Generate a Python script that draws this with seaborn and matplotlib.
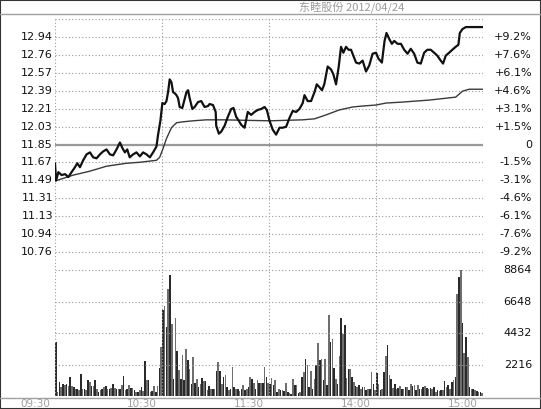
import numpy as np
import pandas as pd
import matplotlib
matplotlib.use('Agg')
import matplotlib.pyplot as plt
import seaborn as sns
from matplotlib.lines import Line2D
from matplotlib.patches import Rectangle

# title / axis texts
title = '东睦股份 2012/04/24'
time_labels = ['09:30', '10:30', '11:30', '14:00', '15:00']
time_ticks = [0, 60, 120, 180, 240]
price_labels = ['12.94', '12.76', '12.57', '12.39', '12.21', '12.03', '11.85',
                '11.67', '11.49', '11.31', '11.13', '10.94', '10.76']
pct_labels = ['+9.2%', '+7.6%', '+6.1%', '+4.6%', '+3.1%', '+1.5%', '0',
              '-1.5%', '-3.1%', '-4.6%', '-6.1%', '-7.6%', '-9.2%']
vol_ticks = [2216, 4432, 6648, 8864]
prev_close = 11.85

# price line (minutes after 09:30, price)
price_t = [0, 0.6, 1.9, 3.7, 5.6, 7.5, 9.3, 11.2, 12.5, 14, 15.8, 17.7, 19.6, 21.4, 23.3,
           25.2, 27, 28.9, 30.8, 32.6, 34.5, 36.4, 37.9, 39.2, 40.5, 41.9, 43.8, 45.7,
           47.6, 49.4, 51.3, 53.2, 55, 56.9, 57.8, 59.1, 60.2, 61.5, 62.5, 63.4, 64.3,
           65.3, 66.2, 67.1, 68.1, 69, 69.9, 71.4, 72.4, 73.7, 74.6, 75.5, 77, 78.3,
           80.2, 82, 83.9, 85.8, 86.7, 88.6, 90.1, 90.4, 91.9, 93.2, 95.1, 96.9, 98.8,
           100.1, 101.6, 103.1, 104.4, 106.3, 108.1, 110, 111.9, 113.7, 115.6, 117.5,
           118.8, 120.3, 122.1, 124, 125.9, 127.7, 129.6, 131.5, 133.3, 135.2, 137.1,
           138.9, 139.9, 141.7, 143.6, 145.5, 146.8, 148.3, 149.7, 151, 152.9, 154.8,
           156.1, 157.6, 159.1, 160.4, 161.7, 163.2, 164.6, 166, 167.3, 168.8, 170.6,
           172.5, 174.4, 176.2, 178.1, 180, 181.4, 183.3, 184.8, 185.9, 187.4, 188.9,
           190.2, 192.1, 194, 195.8, 197.7, 199.5, 201.4, 203.2, 205.1, 207, 208.8,
           210.7, 212.6, 214.4, 216.3, 217.6, 219.1, 221, 222.8, 224.7, 226.2, 227,
           228.5, 230.4, 240]
price_v = [11.66, 11.485, 11.57, 11.54, 11.55, 11.52, 11.57, 11.62, 11.66, 11.62, 11.69,
           11.75, 11.77, 11.72, 11.71, 11.75, 11.78, 11.80, 11.75, 11.74, 11.80, 11.87,
           11.81, 11.77, 11.80, 11.72, 11.75, 11.77, 11.73, 11.77, 11.75, 11.72, 11.77,
           11.83, 11.95, 12.09, 12.27, 12.26, 12.29, 12.38, 12.51, 12.48, 12.38, 12.37,
           12.35, 12.32, 12.23, 12.22, 12.29, 12.38, 12.40, 12.32, 12.21, 12.23, 12.28,
           12.29, 12.23, 12.24, 12.26, 12.25, 12.18, 12.04, 11.96, 11.98, 12.04, 12.13,
           12.21, 12.22, 12.13, 12.09, 12.05, 12.02, 12.18, 12.15, 12.18, 12.20, 12.21,
           12.23, 12.20, 12.09, 12.00, 11.95, 12.02, 12.02, 12.03, 12.12, 12.19, 12.18,
           12.21, 12.27, 12.35, 12.29, 12.29, 12.38, 12.46, 12.43, 12.40, 12.46, 12.64,
           12.61, 12.56, 12.46, 12.64, 12.84, 12.78, 12.84, 12.81, 12.81, 12.75, 12.68,
           12.67, 12.70, 12.59, 12.65, 12.77, 12.78, 12.72, 12.68, 12.90, 12.98, 12.92,
           12.87, 12.90, 12.87, 12.87, 12.81, 12.77, 12.82, 12.77, 12.68, 12.67, 12.78,
           12.81, 12.81, 12.78, 12.75, 12.70, 12.67, 12.75, 12.78, 12.81, 12.84, 12.86,
           12.98, 13.02, 13.04, 13.04]

# average price line
avg_t = [0, 10.3, 19.6, 28.9, 40.1, 47.6, 56.9, 58.7, 60.6, 62.5, 65.3, 68.1, 71.8,
         77.4, 84.9, 94.2, 120.3, 138.9, 145.5, 152, 159.4, 166.9, 172.5, 180, 185.6,
         194.9, 209.8, 224.7, 228.5, 232.2, 240]
avg_v = [11.48, 11.54, 11.58, 11.63, 11.66, 11.67, 11.69, 11.72, 11.81, 11.91, 12.02,
         12.07, 12.08, 12.09, 12.10, 12.10, 12.09, 12.10, 12.11, 12.15, 12.20, 12.23,
         12.24, 12.25, 12.27, 12.28, 12.30, 12.33, 12.39, 12.41, 12.41]

# volume per minute
volume = [3800, 300, 990, 640, 870, 750, 870, 700, 1340, 700,
          640, 520, 520, 400, 1570, 520, 520, 400, 1100, 990,
          700, 700, 1100, 520, 280, 400, 520, 640, 700, 520,
          520, 560, 870, 560, 520, 470, 520, 750, 1410, 400,
          520, 800, 560, 560, 400, 280, 250, 400, 640, 350,
          2450, 1100, 1105, 280, 330, 705, 280, 705, 1975, 3455,
          6040, 6345, 4865, 7520, 8550, 5100, 1175, 5500, 3150, 1810,
          1230, 2910, 1105, 3290, 2515, 1880, 870, 2750, 940, 1175,
          635, 870, 1270, 1080, 1030, 400, 705, 517, 470, 520,
          1740, 2400, 1740, 870, 1340, 1505, 635, 400, 520, 2045,
          635, 517, 517, 330, 517, 800, 400, 517, 600, 1340,
          1175, 940, 517, 1105, 940, 940, 940, 2045, 1340, 940,
          870, 1270, 750, 1105, 260, 517, 400, 400, 350, 940,
          280, 180, 120, 1175, 750, 800, 180, 300, 1340, 1690,
          2585, 2210, 635, 1740, 517, 1230, 2210, 3760, 2515, 2585,
          1105, 2585, 800, 5730, 3810, 4000, 1975, 1230, 870, 2820,
          5500, 4395, 4985, 1270, 1880, 1880, 1340, 987, 705, 600,
          750, 517, 635, 635, 400, 470, 517, 1690, 870, 400,
          1645, 870, 400, 470, 1690, 2820, 3620, 1505, 1230, 565,
          870, 517, 565, 705, 517, 470, 600, 635, 400, 870,
          705, 750, 400, 750, 517, 520, 635, 705, 565, 470,
          565, 517, 635, 260, 400, 350, 450, 400, 1030, 635,
          800, 470, 987, 1105, 1340, 7215, 8390, 8860, 5170, 3055,
          4160, 2750, 600, 520, 470, 400, 350, 300, 250, 200]

sns.set_theme(style='white')
plt.rcParams['font.family'] = ['DejaVu Sans']

W, H = 541, 409
fig = plt.figure(figsize=(W / 100, H / 100), dpi=100)
fig.patch.set_facecolor('white')

L, R = 55, 483
ax_p = fig.add_axes([L / W, 1 - 270 / H, (R - L) / W, 251 / H])
ax_v = fig.add_axes([L / W, 1 - 396 / H, (R - L) / W, 126 / H])

dot = dict(color='#9a9a9a', lw=0.8, linestyle=(0, (1, 2)))
step = 1.09 / 6

# price panel
ax_p.set_xlim(0, 240)
ax_p.set_ylim(prev_close - 7 * step, prev_close + 7 * step)
for k in range(-7, 8):
    if k != 0:
        ax_p.axhline(prev_close + k * step, **dot)
for t in [0, 60, 120, 180, 240]:
    ax_p.axvline(t, **dot)
ax_p.axhline(prev_close, color='#999999', lw=1.6)
sns.lineplot(x=avg_t, y=avg_v, ax=ax_p, color='#3a3a3a', linewidth=1.0, sort=False)
sns.lineplot(x=price_t, y=price_v, ax=ax_p, color='#111111', linewidth=1.6, sort=False)

ytr = ax_p.get_yaxis_transform()
for i, (a, b) in enumerate(zip(price_labels, pct_labels)):
    y = prev_close + (6 - i) * step
    ax_p.text(-2 / (R - L), y, a, transform=ytr, ha='right', va='center',
              fontsize=8, color='#111111')
    ax_p.text(1 + 49 / (R - L), y, b, transform=ytr, ha='right', va='center',
              fontsize=8, color='#111111')

# volume panel
parity = ['a' if i % 2 == 0 else 'b' for i in range(len(volume))]
vdf = pd.DataFrame({'minute': np.arange(len(volume)) + 0.5, 'vol': volume, 'p': parity})
sns.barplot(data=vdf, x='minute', y='vol', hue='p', palette={'a': '#2a2a2a', 'b': '#6e6e6e'},
            native_scale=True, dodge=False, legend=False, width=0.9, saturation=1,
            linewidth=0, ax=ax_v)
ax_v.set_xlim(0, 240)
ax_v.set_ylim(0, 8864 * 126 / 125.7)
for v in vol_ticks:
    ax_v.axhline(v, **dot)
for t in [0, 60, 120, 180, 240]:
    ax_v.axvline(t, **dot)
vtr = ax_v.get_yaxis_transform()
for v in vol_ticks:
    ax_v.text(1 + 49 / (R - L), v, str(v), transform=vtr, ha='right', va='center',
              fontsize=8, color='#111111')

for ax in (ax_p, ax_v):
    ax.set_xticks([])
    ax.set_yticks([])
    ax.set_xlabel('')
    ax.set_ylabel('')
    for s in ax.spines.values():
        s.set_visible(False)
    ax.set_facecolor('white')

# time labels
xtr = ax_v.get_xaxis_transform()
for t, lab in zip(time_ticks, time_labels):
    ax_v.text(t - 5 / 1.7833, -3 / 126, lab, transform=xtr, ha='right', va='top',
              fontsize=7.5, color='#a0a0a0', clip_on=False)

# header and frame lines
fig.add_artist(Line2D([0, 1], [1 - 13.5 / H] * 2, color='#a0a0a0', lw=1))
fig.add_artist(Line2D([0, 1], [1 - 397.5 / H] * 2, color='#a0a0a0', lw=1))
fig.text(352 / W, 1 - 7.5 / H, title, ha='center', va='center', fontsize=8, color='#9a9a9a',
         family=['Noto Sans CJK SC', 'DejaVu Sans'])
fig.add_artist(Rectangle((0, 0), 1, 1, transform=fig.transFigure, fill=False,
                         edgecolor='#333333', lw=1.5))

fig.savefig('out.png', dpi=100)
